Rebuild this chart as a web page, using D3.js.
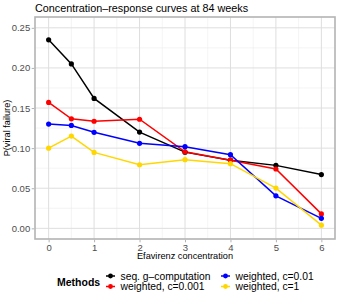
<!DOCTYPE html>
<html><head><meta charset="utf-8">
<script src="https://cdn.jsdelivr.net/npm/d3@7"></script>
<style>body{margin:0;background:#fff}svg{display:block;font-family:"Liberation Sans",Arial,sans-serif}</style>
</head><body><svg id="c" width="340" height="298"></svg>
<script>
const xValues = [0, 0.5, 1, 2, 3, 4, 5, 6];
const seriesNames = ["seq. g\u2013computation", "weighted, c=0.001", "weighted, c=0.01", "weighted, c=1"];
const seriesColors = ["#000000", "#FF0000", "#0000FF", "#FFD700"];
const seqGcomp = [0.235, 0.205, 0.162, 0.120, 0.095, 0.085, 0.0785, 0.067];
const weighted0001 = [0.157, 0.1365, 0.1335, 0.136, 0.0955, 0.085, 0.074, 0.018];
const weighted001 = [0.130, 0.1283, 0.1197, 0.106, 0.1018, 0.0918, 0.0405, 0.0125];
const weighted1 = [0.100, 0.115, 0.0947, 0.0793, 0.0856, 0.0806, 0.0502, 0.004];
const seriesValues = [seqGcomp, weighted0001, weighted001, weighted1];
const xTicks = [0, 1, 2, 3, 4, 5, 6];
const yTicks = [0, 0.05, 0.10, 0.15, 0.20, 0.25];

const svg = d3.select("#c");
const L = 35, R = 335, T = 17, B = 239;
const x = d3.scaleLinear().domain([-0.3, 6.3]).range([L, R]);
const y = d3.scaleLinear().domain([-0.0133, 0.2635]).range([B, T]);

// minor grid
const xMinor = d3.range(-0.5, 6.6, 1).filter(v => v > -0.3 && v < 6.3);
const yMinor = d3.range(-0.025, 0.3, 0.05).filter(v => v > -0.0133 && v < 0.2635);
const g = svg.append("g");
g.selectAll(".xm").data(xMinor).join("line").attr("x1", d => x(d)).attr("x2", d => x(d))
  .attr("y1", T).attr("y2", B).attr("stroke", "#ececec").attr("stroke-width", 0.6);
g.selectAll(".ym").data(yMinor).join("line").attr("y1", d => y(d)).attr("y2", d => y(d))
  .attr("x1", L).attr("x2", R).attr("stroke", "#ececec").attr("stroke-width", 0.6);
g.selectAll(".xM").data(xTicks).join("line").attr("x1", d => x(d)).attr("x2", d => x(d))
  .attr("y1", T).attr("y2", B).attr("stroke", "#dedede").attr("stroke-width", 1);
g.selectAll(".yM").data(yTicks).join("line").attr("y1", d => y(d)).attr("y2", d => y(d))
  .attr("x1", L).attr("x2", R).attr("stroke", "#dedede").attr("stroke-width", 1);

// lines
const line = d3.line().x((d, i) => x(xValues[i])).y(d => y(d));
seriesValues.forEach((vals, k) => {
  svg.append("path").datum(vals).attr("d", line).attr("fill", "none")
    .attr("stroke", seriesColors[k]).attr("stroke-width", 1.5);
});
seriesValues.forEach((vals, k) => {
  svg.append("g").selectAll("circle").data(vals).join("circle")
    .attr("cx", (d, i) => x(xValues[i])).attr("cy", d => y(d)).attr("r", 2.6)
    .attr("fill", seriesColors[k]);
});

// border
svg.append("rect").attr("x", L).attr("y", T).attr("width", R - L).attr("height", B - T)
  .attr("fill", "none").attr("stroke", "#b3b3b3").attr("stroke-width", 1.6);

// axes
const xAxis = d3.axisBottom(x).tickValues(xTicks).tickFormat(d3.format("d")).tickSize(2.5).tickPadding(1.5);
const ax = svg.append("g").attr("transform", `translate(0,${B + 0.8})`).call(xAxis);
const yAxis = d3.axisLeft(y).tickValues(yTicks).tickFormat(d3.format(".2f")).tickSize(2.5).tickPadding(1.5);
const ay = svg.append("g").attr("transform", `translate(${L - 0.8},0)`).call(yAxis);
[ax, ay].forEach(a => {
  a.select(".domain").remove();
  a.selectAll(".tick line").attr("stroke", "#b3b3b3").attr("stroke-width", 1);
  a.selectAll(".tick text").attr("fill", "#4d4d4d").style("font-size", "9.5px").style("font-family", "Liberation Sans, Arial, sans-serif");
});

// titles
svg.append("text").attr("x", L).attr("y", 12).text("Concentration\u2013response curves at 84 weeks")
  .style("font-size", "10.8px").attr("fill", "#000");
svg.append("text").attr("x", (L + R) / 2).attr("y", 259).attr("text-anchor", "middle")
  .text("Efavirenz concentration").style("font-size", "9.2px");
svg.append("text").attr("transform", `translate(10,${(T + B) / 2}) rotate(-90)`).attr("text-anchor", "middle")
  .text("P(viral failure)").style("font-size", "9.2px");

// legend
svg.append("text").attr("x", 57).attr("y", 285.5).text("Methods").style("font-size", "10.5px").style("font-weight", "bold");
const legPos = [[110.5, 276], [110.5, 286.5], [225.5, 276], [225.5, 286.5]];
seriesNames.forEach((name, k) => {
  const [cx, cy] = legPos[k];
  const lg = svg.append("g");
  lg.append("line").attr("x1", cx - 4.5).attr("x2", cx + 4.5).attr("y1", cy).attr("y2", cy)
    .attr("stroke", seriesColors[k]).attr("stroke-width", 1.5);
  lg.append("circle").attr("cx", cx).attr("cy", cy).attr("r", 2.4).attr("fill", seriesColors[k]);
  lg.append("text").attr("x", cx + 10).attr("y", cy + 3.6).text(name).style("font-size", "10.3px");
});
</script></body></html>
